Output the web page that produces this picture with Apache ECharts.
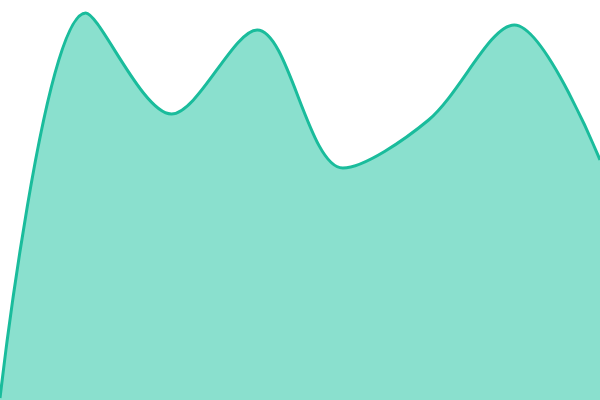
<!DOCTYPE html>
<html><head><meta charset="utf-8">
<script src="https://cdn.jsdelivr.net/npm/echarts@6/dist/echarts.min.js"></script>
<style>html,body{margin:0;padding:0;background:#fff}#c{width:600px;height:400px}</style>
</head><body><div id="c"></div>
<script>
const categories = ['A','B','C','D','E','F','G','H'];
const values = [2, 387, 286, 370, 232, 280, 375, 240];
const chart = echarts.init(document.getElementById('c'));
chart.setOption({
  animation: false,
  grid: {left: 0, right: 0, top: 0, bottom: 0},
  xAxis: {type: 'category', data: categories, boundaryGap: false, show: false},
  yAxis: {type: 'value', min: 0, max: 400, show: false},
  series: [{
    type: 'line',
    data: values,
    smooth: 0.32,
    symbol: 'none',
    lineStyle: {color: '#1abc9c', width: 3},
    areaStyle: {color: '#8ae0ce', opacity: 1}
  }]
});
</script></body></html>
